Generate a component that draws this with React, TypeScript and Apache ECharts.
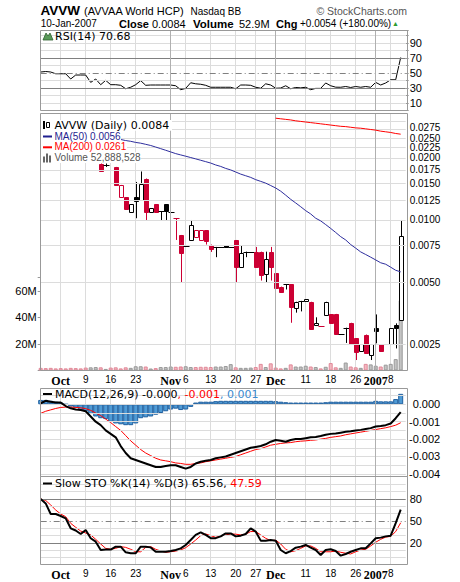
import React, { useEffect, useRef } from 'react';
import * as echarts from 'echarts';

const SANS = '"Liberation Sans", Arial, sans-serif';
const VERD = '"DejaVu Sans", Verdana, sans-serif';
const SERIF = '"Liberation Serif", "Times New Roman", serif';

const dates = [
  '2006-09-26', '2006-09-27', '2006-09-28', '2006-09-29',
  '2006-10-02', '2006-10-03', '2006-10-04', '2006-10-05', '2006-10-06',
  '2006-10-09', '2006-10-10', '2006-10-11', '2006-10-12', '2006-10-13',
  '2006-10-16', '2006-10-17', '2006-10-18', '2006-10-19', '2006-10-20',
  '2006-10-23', '2006-10-24', '2006-10-25', '2006-10-26', '2006-10-27',
  '2006-10-30', '2006-10-31',
  '2006-11-01', '2006-11-02', '2006-11-03',
  '2006-11-06', '2006-11-07', '2006-11-08', '2006-11-09', '2006-11-10',
  '2006-11-13', '2006-11-14', '2006-11-15', '2006-11-16', '2006-11-17',
  '2006-11-20', '2006-11-21', '2006-11-22', '2006-11-24',
  '2006-11-27', '2006-11-28', '2006-11-29', '2006-11-30',
  '2006-12-01',
  '2006-12-04', '2006-12-05', '2006-12-06', '2006-12-07', '2006-12-08',
  '2006-12-11', '2006-12-12', '2006-12-13', '2006-12-14', '2006-12-15',
  '2006-12-18', '2006-12-19', '2006-12-20', '2006-12-21', '2006-12-22',
  '2006-12-26', '2006-12-27', '2006-12-28', '2006-12-29',
  '2007-01-03', '2007-01-04', '2007-01-05', '2007-01-08', '2007-01-09', '2007-01-10',
];

const xTickDates = ['2006-10-02', '2006-10-09', '2006-10-16', '2006-10-23', '2006-11-01', '2006-11-06', '2006-11-13', '2006-11-20', '2006-11-27', '2006-12-01', '2006-12-11', '2006-12-18', '2006-12-26', '2007-01-03', '2007-01-08'];
const xTickLabels = ['Oct', '9', '16', '23', 'Nov', '6', '13', '20', '27', 'Dec', '11', '18', '26', '2007', '8'];
const monthTickDates = ['2006-11-01', '2006-12-01', '2007-01-03'];

// OHLC (null = hidden behind the legend box)
const opens = [null, null, null, null, null, null, null, null, null, null, null, null,
  0.0188, 0.0185, null, 0.0181, 0.0129, 0.0129, 0.01085, 0.0130, 0.0126, 0.0159, 0.0109, 0.0119, 0.0110, 0.0119, 0.0109,
  0.0102, 0.00846, 0.00748, 0.0080, 0.0083, 0.0080, 0.0089, 0.0076, 0.0074, 0.0074, 0.00756, 0.0074, 0.0080, 0.00593,
  0.00702, 0.00702, 0.00702, 0.00702, 0.00544, 0.00702, 0.00551, 0.00475, 0.00489, 0.00489, 0.00377, 0.00405, 0.00405,
  0.00401, 0.0031, 0.00307, 0.00348, 0.00348, 0.0035, 0.0028, 0.0030, 0.00317, 0.00267, 0.00229, 0.00278, 0.00219,
  0.00298, 0.00249, 0.00249, 0.00249, 0.00310, 0.00327];
const highs = [null, null, null, null, null, null, null, null, null, null, null, null,
  0.0188, 0.0188, null, 0.0181, 0.0148, 0.0129, 0.0119, 0.0153, 0.0172, 0.0159, 0.0114, 0.0119, 0.0110, 0.0119, 0.0109,
  0.0102, 0.00846, 0.00748, 0.0100, 0.00894, 0.0089, 0.0089, 0.0076, 0.0074, 0.0074, 0.00756, 0.0074, 0.0080, 0.0075,
  0.00702, 0.00702, 0.0074, 0.00702, 0.00702, 0.0074, 0.00551, 0.00475, 0.00489, 0.00489, 0.00401, 0.00405, 0.00412,
  0.00401, 0.00337, 0.00307, 0.00401, 0.00348, 0.0035, 0.0028, 0.0030, 0.00317, 0.00267, 0.00249, 0.00278, 0.00249,
  0.00348, 0.00249, 0.00249, 0.00298, 0.00315, 0.0100];
const lows = [null, null, null, null, null, null, null, null, null, null, null, null,
  0.0173, 0.0181, null, 0.0148, 0.0129, 0.0113, 0.01085, 0.0102, 0.0126, 0.0100, 0.0109, 0.0109, 0.0100, 0.0100, 0.0109,
  0.0080, 0.0050, 0.00748, 0.0080, 0.0083, 0.0080, 0.0076, 0.0070, 0.0066, 0.0074, 0.0074, 0.0074, 0.0050, 0.00593,
  0.0066, 0.00702, 0.00593, 0.00508, 0.0050, 0.00508, 0.00466, 0.00449, 0.0046, 0.00317, 0.00355, 0.0036, 0.00405,
  0.00298, 0.0031, 0.00307, 0.00348, 0.00315, 0.0028, 0.0028, 0.00253, 0.00252, 0.00209, 0.00229, 0.00228, 0.00209,
  0.00252, 0.00229, 0.00249, 0.00249, 0.00238, 0.00327];
const closes = [null, null, null, null, null, null, null, null, null, null, null, null,
  0.0173, 0.0185, null, 0.0148, 0.0148, 0.0113, 0.0119, 0.0124, 0.0150, 0.0110, 0.0114, 0.0109, 0.0110, 0.0110, 0.0109,
  0.0102, 0.00694, 0.00748, 0.00946, 0.00894, 0.0089, 0.0079, 0.0073, 0.0074, 0.0074, 0.0074, 0.0074, 0.00593, 0.00694,
  0.00702, 0.00702, 0.00593, 0.00541, 0.00644, 0.00593, 0.00466, 0.00449, 0.00489, 0.00377, 0.00401, 0.00405, 0.00412,
  0.00298, 0.00316, 0.00307, 0.00401, 0.00315, 0.0028, 0.0028, 0.0030, 0.00252, 0.00229, 0.00249, 0.00228, 0.00249,
  0.00288, 0.00229, 0.00249, 0.00298, 0.00300, 0.0084];
// 1 = close below previous close (red candle / pink volume)
const downDays = [1, 1, 1, 1, 1, 1, 1, 1, 1, 1, 0, 0,
  1, 0, 1, 1, 1, 1, 0, 0, 0, 1, 0, 1, 0, 0, 0,
  1, 1, 0, 0, 1, 1, 1, 1, 0, 0, 0, 0, 1, 0,
  0, 0, 1, 1, 0, 1, 1, 1, 0, 1, 0, 0, 0,
  1, 0, 1, 0, 1, 1, 0, 0, 1, 1, 0, 1, 0,
  0, 1, 0, 0, 0, 0];
const volumeM = [2.0, 1.8, 2.0, 1.6, 1.8, 1.6, 2.0, 1.8, 1.6, 2.2, 2.4, 2.6,
  2.4, 1.2, 2.2, 2.4, 1.6, 2.4, 2.0, 3.2, 3.2, 3.0, 1.5, 1.8, 2.6, 2.6, 3.0,
  2.8, 3.0, 3.2, 2.6, 2.6, 2.8, 2.8, 2.6, 3.0, 3.0, 3.4, 4.8, 2.4, 2.0,
  2.0, 2.2, 2.6, 5.0, 2.6, 5.4, 2.2, 1.6, 2.0, 4.6, 3.0, 3.0, 3.6,
  3.0, 2.6, 1.6, 2.8, 5.6, 2.4, 2.0, 6.0, 3.0, 2.4, 2.0, 5.0, 4.6,
  3.6, 3.0, 4.4, 5.0, 8.6, 52.9];
const ma50 = [null, null, null, null, null, null, null, null, null, null, null, null, null, null, null,
  0.0248, 0.0246, 0.0243, 0.0241, 0.0238, 0.0236, 0.0233, 0.0230, 0.0226, 0.0222, 0.0218, 0.0214,
  0.0210, 0.0207, 0.0204, 0.0201, 0.0198, 0.0195, 0.0192, 0.0189, 0.0185, 0.0182, 0.0178, 0.0175,
  0.0171, 0.0167, 0.0164, 0.0161, 0.0157, 0.0154, 0.0151, 0.0147, 0.0143, 0.0138, 0.0132, 0.0126,
  0.0121, 0.0116, 0.0111, 0.0107, 0.0102, 0.0099, 0.0095, 0.0091, 0.0087, 0.0083, 0.0080, 0.0076,
  0.0073, 0.0070, 0.0068, 0.0066, 0.0064, 0.0062, 0.0061, 0.0059, 0.0057, 0.0056];
const ma200 = [null, null, null, null, null, null, null, null, null, null, null, null, null, null, null, null,
  null, null, null, null, null, null, null, null, null, null, null, null, null, null, null, null,
  null, null, null, null, null, null, null, null, null, null, null, null, null, null, null,
  0.0312, 0.0310, 0.0308, 0.0306, 0.0303, 0.0301, 0.0299, 0.0297, 0.0295, 0.0293, 0.0291, 0.0289,
  0.0287, 0.0285, 0.0284, 0.0282, 0.0280, 0.0279, 0.0277, 0.0275, 0.0273, 0.0270, 0.0268, 0.0266,
  0.0263, 0.0261];
const rsi = [51.3, 52, 51.3, 49, 49, 49, 42, 47.3, 47.3, 47.3,
  37.5, 42, 34.4, 40.2, 34.4, 34.4, 33.6, 29, 31, 34.4,
  39.8, 33.6, 34, 34, 34, 34, 34, 33, 27.7, 29.5,
  37, 35.6, 35, 33.6, 31, 31, 31, 31, 31, 29,
  34, 34, 33.6, 31, 29.7, 35.6, 34, 29.7, 30, 33,
  29, 30.7, 30.2, 31, 27.7, 29.5, 29.5, 36.7, 33, 31.1,
  31, 32, 30.7, 32, 31, 32, 31, 37.5, 34, 36.7,
  41, 41, 70.68];
const macd = [0.00006, 0.0002, 0.00015, 0.0001, 0.0001, -0.0001, -0.00023, -0.0003, -0.00033, -0.0004,
  -0.0007, -0.001, -0.0012, -0.0015, -0.0017, -0.0019, -0.0024, -0.0028, -0.0031, -0.0032,
  -0.0033, -0.0034, -0.0035, -0.0036, -0.0036, -0.00355, -0.0035, -0.0035, -0.0036, -0.0037,
  -0.0036, -0.0034, -0.0033, -0.00325, -0.0032, -0.0031, -0.00305, -0.003, -0.0029, -0.0028,
  -0.0027, -0.0026, -0.0025, -0.00245, -0.0024, -0.0023, -0.00215, -0.00205, -0.0021, -0.00215,
  -0.00205, -0.002, -0.002, -0.00195, -0.0019, -0.00188, -0.00182, -0.00175, -0.0017, -0.00168,
  -0.00163, -0.00158, -0.00155, -0.0015, -0.00147, -0.00142, -0.00137, -0.00128, -0.00125, -0.0012,
  -0.0011, -0.0008, -0.00045];
const macdSignal = [-0.00052, -0.0004, -0.00032, -0.00024, -0.00018, -0.00016, -0.00016, -0.00018, -0.0002, -0.00025,
  -0.00035, -0.0005, -0.00065, -0.00085, -0.00105, -0.00128, -0.0015, -0.0018, -0.0021, -0.00235,
  -0.0026, -0.0028, -0.00295, -0.0031, -0.0032, -0.00325, -0.0033, -0.00337, -0.0034, -0.00345,
  -0.00345, -0.0034, -0.00337, -0.0033, -0.00325, -0.0032, -0.00315, -0.0031, -0.00305, -0.003,
  -0.0029, -0.0028, -0.0027, -0.0026, -0.00255, -0.00245, -0.00235, -0.0023, -0.00225, -0.00222,
  -0.0022, -0.00215, -0.00212, -0.0021, -0.00207, -0.00205, -0.002, -0.00196, -0.0019, -0.00186,
  -0.00182, -0.00175, -0.0017, -0.00165, -0.0016, -0.00155, -0.0015, -0.00145, -0.0014, -0.00135,
  -0.00128, -0.0012, -0.00106];
const macdHist = [0.00025, 0.00025, 0.0002, 0.00015, 0.0001, 0.0, -0.00013, -0.0002, -0.00033, -0.0004,
  -0.00055, -0.0007, -0.0008, -0.00085, -0.001, -0.0011, -0.00115, -0.0012, -0.0012, -0.0011,
  -0.0008, -0.00075, -0.0007, -0.0006, -0.0005, -0.0004, -0.0003, -0.00025, -0.00033, -0.0003,
  -0.00015, 0.0001, 0.00015, 0.00015, 0.00015, 0.00018, 0.0002, 0.0002, 0.0002, 0.0002,
  0.0002, 0.0002, 0.0002, 0.0002, 0.0002, 0.0002, 0.0002, 0.00018, 0.00015, 0.00012,
  0.0001, 0.0001, 0.0001, 0.0001, 0.0001, 0.0001, 0.0001, 0.00012, 0.00015, 0.00015,
  0.00015, 0.00015, 0.00015, 0.00015, 0.00015, 0.00015, 0.00015, 0.0002, 0.00017, 0.00017,
  0.00017, 0.0003, 0.0006];
const stoK = [80, 74, 59.5, 59.5, 56.8, 53.6, 40, 37, 32.3, 37.7,
  26.4, 21.8, 10.4, 11, 11, 15, 15, 7.3, 6, 6,
  15, 15, 14, 8, 8, 8, 9, 10.4, 12.7, 17.3,
  24, 31, 34.6, 31, 26.6, 26.6, 29, 33, 33, 29,
  30, 32.3, 40, 35.6, 23.2, 23.2, 24, 23.2, 10.4, 6,
  9, 13.6, 15, 17.3, 13.6, 10.4, 3.6, 10.4, 11.4, 9,
  2.7, 5, 8, 10.4, 12.7, 12.7, 19.5, 26.4, 27.3, 29,
  30, 47, 65.56];
const stoD = [80, 78, 71.8, 65, 59.5, 55.9, 46.8, 41.4, 36.3, 33.6,
  31, 25, 18.6, 12.7, 11.4, 12.7, 15, 14, 11.4, 8,
  8, 14, 15, 11.4, 9, 7.3, 8, 9, 10.4, 13.6,
  18.6, 24, 30, 32.3, 30, 27.7, 29.5, 31, 32.3, 32,
  31, 32, 35.6, 35.6, 31, 26.4, 23.2, 24, 18.6, 11.4,
  8, 9.5, 12.7, 16, 16, 12.7, 8, 8, 8, 9,
  7.3, 6, 5, 8, 10.4, 11.4, 16, 21, 25, 28,
  29, 35.6, 47.59];

const priceTicks = [0.0025, 0.005, 0.0075, 0.01, 0.0125, 0.015, 0.0175, 0.02, 0.0225, 0.025, 0.0275];
const priceGridExtra = [0.03];
const rsiLabels = [10, 30, 50, 70, 90];
const stoLabels = [20, 50, 80];
const macdLabels = [0, -0.001, -0.002, -0.003, -0.004];
const volLabels = [20, 40, 60];

const RED = '#cc0033';
const GRID_LIGHT = '#dcdcdc';
const GRID_DARK = '#808080';
const FRAME = '#999999';

const L = 40.7;
const W = 365;
const VOL_PX_PER_M = 1.3275;

function buildOption() {
  const lg = (v: number | null) => (v == null ? null : Math.log10(v));
  const cats = [...dates, ''];
  const tickIdx = new Set(xTickDates.map((d) => dates.indexOf(d)));
  const labelMap: Record<string, string> = {};
  xTickDates.forEach((d, i) => (labelMap[d] = xTickLabels[i]));
  const monthSet = new Set(['Oct', 'Nov', 'Dec', '2007']);

  const frames = [
    [30.5, 80], [113.5, 257], [388.5, 88], [476.5, 88],
  ];
  const grids: any[] = frames.map(([t, h]) => ({ left: L, width: W, top: t, height: h, outerBoundsMode: 'none', containLabel: false }));
  const volMax = 70;
  grids.push({ left: L, width: W, top: 370.5 - volMax * VOL_PX_PER_M, height: volMax * VOL_PX_PER_M, outerBoundsMode: 'none', containLabel: false });

  const xAxis: any[] = frames.map((_, gi) => ({
    type: 'category', gridIndex: gi, data: cats, boundaryGap: false,
    axisLine: { show: false }, axisTick: { show: false },
    axisLabel: {
      show: gi === 1 || gi === 3,
      interval: (index: number) => tickIdx.has(index),
      margin: 4,
      formatter: (value: string) => {
        const t = labelMap[value];
        if (!t) return '';
        return monthSet.has(t) ? `{m|${t}}` : `{d|${t}}`;
      },
      rich: {
        m: { fontFamily: SERIF, fontWeight: 'bold', fontSize: 12, color: '#000' },
        d: { fontFamily: SANS, fontSize: 10, color: '#000' },
      },
    },
    splitLine: { show: true, interval: (index: number) => tickIdx.has(index), lineStyle: { color: GRID_LIGHT, width: 1 } },
  }));
  xAxis.push({ type: 'category', gridIndex: 4, data: cats, boundaryGap: false, show: false });

  const [pMinLog, pMaxLog] = [-2.7306, -1.483];
  const yAxis = [
    {
      type: 'value', gridIndex: 0, min: 0, max: 106.67, interval: 10, position: 'right',
      axisLine: { show: false }, axisLabel: { show: false }, splitLine: { show: false },
      axisTick: { show: true, length: 3, lineStyle: { color: FRAME } },
    },
    { type: 'value', gridIndex: 1, min: pMinLog, max: pMaxLog, show: false },
    {
      type: 'value', gridIndex: 4, min: 0, max: volMax, interval: 20, position: 'left',
      axisLine: { show: false }, splitLine: { show: false },
      axisTick: { show: true, length: 3, lineStyle: { color: FRAME } },
      axisLabel: {
        margin: 4, fontSize: 11, fontFamily: SANS, color: '#000',
        formatter: (v: number) => (volLabels.includes(Math.round(v)) ? `${Math.round(v)}M` : ''),
      },
    },
    { type: 'value', gridIndex: 2, min: -0.00415, max: 0.000908, show: false },
    { type: 'value', gridIndex: 3, min: -9.36, max: 110.7, show: false },
  ];

  const lab = (text: string, extra: any = {}) => ({
    show: true, position: 'end', distance: 4, formatter: text,
    color: '#000', fontSize: 11, fontFamily: SANS, ...extra,
  });
  const hl = (v: number, color: string, type: any, label?: any) => ({
    yAxis: v, lineStyle: { color, width: 1, type }, label: label || { show: false },
  });
  const monthLines = monthTickDates.map((d) => ({ xAxis: d, lineStyle: { color: '#b0b0b0', width: 1, type: 'solid' }, label: { show: false } }));
  const gridSeries = (gi: number, yi: number, data: any[]) => ({
    type: 'line', xAxisIndex: gi, yAxisIndex: yi, data: dates.map(() => null), z: 1, silent: true,
    markLine: { silent: true, precision: 10, symbol: ['none', 'none'], animation: false, data: [...data, ...monthLines] },
  });

  const rsiLines: any[] = [];
  for (let v = 10; v <= 100; v += 10) {
    const dark = v === 30 || v === 70;
    const mid = v === 50;
    rsiLines.push(hl(v, dark || mid ? GRID_DARK : GRID_LIGHT, mid ? [6, 3, 1, 3] : 'solid',
      rsiLabels.includes(v) ? lab(String(v)) : undefined));
  }
  const nudge: Record<string, number> = { '0.0275': -1.5, '0.0225': 0.5 };
  const priceLines: any[] = priceTicks.map((p) => {
    const t = p.toFixed(4);
    return hl(Math.log10(p), GRID_LIGHT, 'solid', lab(t, { fontSize: 10, lineHeight: 10, offset: [0, nudge[t] || 0] }));
  });
  priceGridExtra.forEach((p) => priceLines.push(hl(Math.log10(p), GRID_LIGHT, 'solid')));
  const macdLines: any[] = [];
  for (let k = -8; k <= 1; k++) {
    const v = k * 0.0005;
    const labelled = macdLabels.some((m) => Math.abs(m - v) < 1e-9);
    macdLines.push(hl(v, GRID_LIGHT, 'solid', labelled ? lab(v.toFixed(3), { align: 'right', distance: 34.5 }) : undefined));
  }
  const stoLines: any[] = [];
  for (let v = 0; v <= 100; v += 10) {
    const dark = v === 20 || v === 80;
    const mid = v === 50;
    stoLines.push(hl(v, dark || mid ? GRID_DARK : GRID_LIGHT, mid ? [6, 3, 1, 3] : 'solid',
      stoLabels.includes(v) ? lab(String(v)) : undefined));
  }

  const candleData: any[] = [];
  for (let i = 0; i < dates.length; i++) {
    if (opens[i] == null) continue;
    candleData.push([i, lg(opens[i]), lg(highs[i]), lg(lows[i]), lg(closes[i]), downDays[i]]);
  }

  const series: any[] = [
    gridSeries(0, 0, rsiLines),
    gridSeries(1, 1, priceLines),
    gridSeries(2, 3, macdLines),
    gridSeries(3, 4, stoLines),
    {
      type: 'line', xAxisIndex: 0, yAxisIndex: 0, data: rsi, symbol: 'none', z: 4,
      lineStyle: { color: '#000', width: 1 },
    },
    {
      type: 'bar', xAxisIndex: 4, yAxisIndex: 2, barWidth: 4, z: 2,
      data: volumeM.map((v, i) => ({
        value: v,
        itemStyle: downDays[i]
          ? { color: '#f2b8c0', borderColor: '#e08898', borderWidth: 1 }
          : { color: '#c4c4c4', borderColor: '#999999', borderWidth: 1 },
      })),
    },
    {
      type: 'custom', xAxisIndex: 1, yAxisIndex: 1, z: 4, data: candleData,
      encode: { x: 0, y: [1, 2, 3, 4] },
      renderItem: (params: any, api: any) => {
        const i = api.value(0);
        const o = api.value(1), h = api.value(2), l = api.value(3), c = api.value(4);
        const down = api.value(5) === 1;
        const col = down ? RED : '#000';
        const pO = api.coord([i, o]);
        const pC = api.coord([i, c]);
        const pH = api.coord([i, h]);
        const pL = api.coord([i, l]);
        const x = Math.round(pO[0]) + 0.5;
        const yTop = Math.min(pO[1], pC[1]);
        const yBot = Math.max(pO[1], pC[1]);
        const children: any[] = [
          { type: 'line', shape: { x1: x, y1: pH[1], x2: x, y2: pL[1] }, style: { stroke: col, lineWidth: 1 } },
        ];
        if (yBot - yTop < 1.5) {
          const yy = Math.round(yTop) + 0.5;
          children.push({ type: 'line', shape: { x1: x - 3, y1: yy, x2: x + 3, y2: yy }, style: { stroke: col, lineWidth: 1 } });
        } else {
          const hollow = c > o;
          const top = Math.round(yTop) + 0.5;
          const hgt = Math.max(1, Math.round(yBot - yTop));
          children.push({
            type: 'rect', shape: { x: x - 2, y: top, width: 4, height: hgt },
            style: { fill: hollow ? '#fff' : col, stroke: col, lineWidth: 1 },
          });
        }
        return { type: 'group', children };
      },
    },
    {
      type: 'line', xAxisIndex: 1, yAxisIndex: 1, data: ma50.map(lg), symbol: 'none', z: 5,
      lineStyle: { color: '#2e2e9e', width: 1 },
    },
    {
      type: 'line', xAxisIndex: 1, yAxisIndex: 1, data: ma200.map(lg), symbol: 'none', z: 5,
      lineStyle: { color: '#ff0000', width: 1 },
    },
    {
      type: 'bar', xAxisIndex: 2, yAxisIndex: 3, barWidth: 5, z: 2, data: macdHist,
      itemStyle: { color: '#4f9bd5', borderColor: '#1f5f9f', borderWidth: 1 },
    },
    {
      type: 'line', xAxisIndex: 2, yAxisIndex: 3, data: macdSignal, symbol: 'none', z: 4,
      lineStyle: { color: '#ff0000', width: 1 },
    },
    {
      type: 'line', xAxisIndex: 2, yAxisIndex: 3, data: macd, symbol: 'none', z: 5,
      lineStyle: { color: '#000', width: 2 },
    },
    {
      type: 'line', xAxisIndex: 3, yAxisIndex: 4, data: stoD, symbol: 'none', z: 4,
      lineStyle: { color: '#ff0000', width: 1 },
    },
    {
      type: 'line', xAxisIndex: 3, yAxisIndex: 4, data: stoK, symbol: 'none', z: 5,
      lineStyle: { color: '#000', width: 2 },
    },
  ];

  const txt = (x: number, y: number, text: string, style: any = {}) => ({
    type: 'text', x, y, z: 100,
    style: { text, fill: '#000', fontFamily: SANS, fontSize: 11, verticalAlign: 'middle', align: 'left', ...style },
  });

  // price-panel legend: one multi-line text over white boxes
  const LEG_TOP = 119.9;
  const LEG_LH = 10.8;
  const legBoxes = [172, 121, 127, 141].map((right, k) => ({
    type: 'rect', z: 99, shape: { x: 41, y: LEG_TOP + k * LEG_LH, width: right - 41, height: LEG_LH },
    style: { fill: '#fff' },
  }));

  const graphic: any[] = [
    ...frames.map(([t, h]) => ({
      type: 'rect', z: 50, shape: { x: 40.5, y: t, width: 367, height: h },
      style: { fill: 'none', stroke: FRAME, lineWidth: 1 },
    })),
    // header
    txt(40.5, 10.5, 'AVVW', { fontWeight: 'bold', fontSize: 13.5 }),
    txt(84, 10.5, '(AVVAA World HCP)', { fontSize: 11 }),
    txt(190.5, 11, 'Nasdaq BB', { fontSize: 10 }),
    txt(407, 10.5, '\u00A9 StockCharts.com', { fontSize: 10.5, fill: '#555', align: 'right' }),
    txt(40.7, 23.5, '10-Jan-2007', { fontSize: 10 }),
    txt(119, 23.5, 'Close', { fontWeight: 'bold', fontSize: 11 }),
    txt(152, 23.5, '0.0084', { fontSize: 11 }),
    txt(193, 23.5, 'Volume', { fontWeight: 'bold', fontSize: 11.5 }),
    txt(239, 23.5, '52.9M', { fontSize: 11 }),
    txt(276, 23.5, 'Chg', { fontWeight: 'bold', fontSize: 11 }),
    txt(300, 23.5, '+0.0054 (+180.00%)', { fontSize: 10 }),
    txt(392, 23.5, '\u25B2', { fontSize: 7, fill: '#2e9a2e' }),
    // RSI legend
    { type: 'polygon', z: 100, shape: { points: [[43, 40], [46, 33], [48, 36], [50, 33], [53, 40]] }, style: { fill: '#5a9a5a', stroke: '#2f5f2f', lineWidth: 0.8 } },
    txt(55, 36.5, 'RSI(14) 70.68', { fontFamily: VERD, fontSize: 11 }),
    // price legend
    ...legBoxes,
    {
      type: 'text', x: 54.5, y: LEG_TOP, z: 100,
      style: {
        text: '{a|AVVW (Daily) 0.0084}\n{b|MA(50) 0.0056}\n{c|MA(200) 0.0261}\n{d|Volume 52,888,528}',
        verticalAlign: 'top', align: 'left', fontFamily: VERD, fontSize: 11, lineHeight: LEG_LH,
        rich: {
          a: { fill: '#000', fontFamily: VERD, fontSize: 11, lineHeight: LEG_LH },
          b: { fill: '#1f1f8f', fontFamily: SANS, fontSize: 10, lineHeight: LEG_LH },
          c: { fill: '#ff0000', fontFamily: SANS, fontSize: 10, lineHeight: LEG_LH },
          d: { fill: '#555555', fontFamily: SANS, fontSize: 10, lineHeight: LEG_LH },
        },
      },
    },
    { type: 'rect', z: 101, shape: { x: 43, y: 121, width: 2, height: 8 }, style: { fill: '#000' } },
    { type: 'rect', z: 101, shape: { x: 46.5, y: 122.5, width: 3, height: 5 }, style: { fill: '#fff', stroke: '#000', lineWidth: 1 } },
    { type: 'rect', z: 101, shape: { x: 43, y: 135.5, width: 9, height: 2 }, style: { fill: '#1f1f8f' } },
    { type: 'rect', z: 101, shape: { x: 43, y: 146.3, width: 9, height: 2 }, style: { fill: '#ff0000' } },
    { type: 'rect', z: 101, shape: { x: 43, y: 156.5, width: 2, height: 6 }, style: { fill: '#666' } },
    { type: 'rect', z: 101, shape: { x: 46, y: 153.5, width: 2, height: 9 }, style: { fill: '#666' } },
    { type: 'rect', z: 101, shape: { x: 49, y: 155.5, width: 2, height: 7 }, style: { fill: '#666' } },
    // MACD legend
    { type: 'rect', z: 101, shape: { x: 43, y: 393, width: 9, height: 2 }, style: { fill: '#000' } },
    {
      type: 'text', x: 55, y: 394.2, z: 100,
      style: {
        text: '{a|MACD(12,26,9) -0.000}{b|, -0.001}{c|, 0.001}', verticalAlign: 'middle', fontFamily: VERD, fontSize: 11,
        rich: {
          a: { fill: '#000', fontFamily: VERD, fontSize: 11 },
          b: { fill: '#ff0000', fontFamily: VERD, fontSize: 11 },
          c: { fill: '#3a8ad0', fontFamily: VERD, fontSize: 11 },
        },
      },
    },
    // STO legend
    { type: 'rect', z: 101, shape: { x: 43, y: 482.5, width: 9, height: 2 }, style: { fill: '#000' } },
    {
      type: 'text', x: 55, y: 483.5, z: 100,
      style: {
        text: '{a|Slow STO %K(14) %D(3) 65.56, }{b|47.59}', verticalAlign: 'middle', fontFamily: VERD, fontSize: 11,
        rich: {
          a: { fill: '#000', fontFamily: VERD, fontSize: 11 },
          b: { fill: '#ff0000', fontFamily: VERD, fontSize: 11 },
        },
      },
    },
  ];

  return {
    animation: false,
    backgroundColor: '#fff',
    grid: grids,
    xAxis,
    yAxis,
    series,
    graphic,
  };
}

export default function App() {
  const ref = useRef<HTMLDivElement>(null);
  useEffect(() => {
    const chart = echarts.init(ref.current as HTMLDivElement, null, { renderer: 'svg' });
    chart.setOption(buildOption() as any);
    return () => chart.dispose();
  }, []);
  return (
    <div
      ref={ref}
      style={{ position: 'fixed', left: 0, top: 0, width: 460, height: 582, background: '#fff' }}
    />
  );
}
